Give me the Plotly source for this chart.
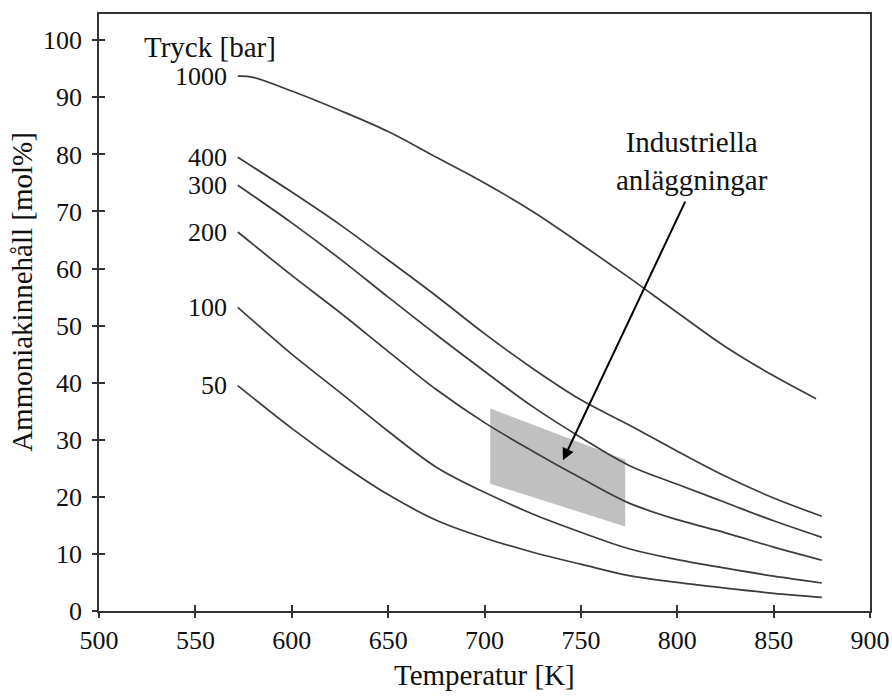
import plotly.graph_objects as go

# ---- data ----
T_1000 = [572, 580, 600, 625, 650, 675, 700, 725, 750, 775, 800, 825, 850, 872]
Y_1000 = [93.7, 93.5, 91.1, 87.7, 84.0, 79.5, 75.0, 70.0, 64.3, 58.4, 52.3, 46.3, 41.2, 37.2]

TEMPS = [572, 600, 625, 650, 675, 700, 725, 750, 775, 800, 825, 850, 875]
Y_400 = [79.5, 73.4, 67.7, 61.5, 55.2, 48.6, 42.5, 37.0, 32.6, 28.0, 23.6, 19.8, 16.6]
Y_300 = [74.6, 68.0, 61.7, 55.0, 48.4, 42.0, 35.8, 30.4, 25.5, 22.2, 19.0, 15.8, 12.9]
Y_200 = [66.4, 58.8, 52.3, 45.5, 38.8, 33.0, 28.0, 23.3, 18.9, 16.0, 13.7, 11.2, 8.9]
Y_100 = [53.2, 45.0, 38.3, 31.5, 25.2, 20.8, 17.0, 13.8, 10.9, 9.0, 7.5, 6.1, 4.9]
Y_50 = [39.5, 32.0, 25.9, 20.4, 15.9, 12.8, 10.3, 8.2, 6.2, 5.0, 4.0, 3.1, 2.4]

PRESSURES = ["1000", "400", "300", "200", "100", "50"]

# industrial operating window (polygon corners)
REGION_T = [703, 703, 773, 773]
REGION_Y = [35.5, 22.3, 14.8, 26.5]

# arrow: tail (text) -> head (region)
ARROW_TAIL = (804.5, 72.0)
ARROW_HEAD = (740.7, 26.4)
ANNOT_TEXT = "Industriella<br>anläggningar"
ANNOT_POS = (807.5, 78.9)

X_TICKS = [500, 550, 600, 650, 700, 750, 800, 850, 900]
Y_TICKS = [0, 10, 20, 30, 40, 50, 60, 70, 80, 90, 100]

X_TITLE = "Temperatur [K]"
Y_TITLE = "Ammoniakinnehåll [mol%]"

FONT = "Liberation Serif, Times New Roman, serif"
LINE_COLOR = "#3c3c3c"
TXT = "#111"

fig = go.Figure()

# shaded operating window
fig.add_trace(go.Scatter(
    x=REGION_T, y=REGION_Y, mode="lines", fill="toself",
    fillcolor="rgb(192,192,192)", line=dict(width=0),
    hoverinfo="skip", showlegend=False))

series = [(T_1000, Y_1000), (TEMPS, Y_400), (TEMPS, Y_300),
          (TEMPS, Y_200), (TEMPS, Y_100), (TEMPS, Y_50)]

for name, (xs, ys) in zip(PRESSURES, series):
    fig.add_trace(go.Scatter(
        x=xs, y=ys, mode="lines", name=name,
        line=dict(color=LINE_COLOR, width=1.7, shape="spline", smoothing=1.0),
        showlegend=False))
    fig.add_annotation(x=567.5, y=ys[0], text=name, showarrow=False,
                       xanchor="right", yanchor="middle",
                       font=dict(family=FONT, size=26, color=TXT))

fig.add_annotation(x=557.7, y=98.9, text="Tryck [bar]", showarrow=False,
                   xanchor="center", yanchor="middle",
                   font=dict(family=FONT, size=29, color=TXT))

fig.add_annotation(x=ANNOT_POS[0], y=ANNOT_POS[1], text=ANNOT_TEXT,
                   showarrow=False, xanchor="center", yanchor="middle",
                   font=dict(family=FONT, size=29, color=TXT))

fig.add_annotation(x=ARROW_HEAD[0], y=ARROW_HEAD[1], ax=ARROW_TAIL[0], ay=ARROW_TAIL[1],
                   xref="x", yref="y", axref="x", ayref="y", text="",
                   showarrow=True, arrowhead=2, arrowsize=1.2, arrowwidth=2,
                   arrowcolor="#000")

# axis titles as annotations (exact placement)
fig.add_annotation(x=0.5, y=-0.108, xref="paper", yref="paper", text=X_TITLE,
                   showarrow=False, xanchor="center", yanchor="middle",
                   font=dict(family=FONT, size=29, color=TXT))
fig.add_annotation(x=-0.099, y=0.534, xref="paper", yref="paper", text=Y_TITLE,
                   showarrow=False, xanchor="center", yanchor="middle", textangle=-90,
                   font=dict(family=FONT, size=29, color=TXT))

# helper trace so the inside-tick overlay axes get drawn
fig.add_trace(go.Scatter(x=[None], y=[None], xaxis="x2", yaxis="y2",
                         showlegend=False, hoverinfo="skip"))

tickfont = dict(family=FONT, size=26, color=TXT)
axis_common = dict(showgrid=False, zeroline=False, automargin=False,
                   linecolor="#333", linewidth=1.5, tickfont=tickfont)

fig.update_layout(
    width=892, height=697,
    margin=dict(l=99, r=22, t=14, b=86),
    plot_bgcolor="white", paper_bgcolor="white",
    font=dict(family=FONT, size=26, color=TXT),
    xaxis=dict(range=[500, 900], tickvals=X_TICKS, ticks="outside", ticklen=5,
               tickwidth=1.5, tickcolor="#333", showline=True, mirror=True,
               ticklabelstandoff=0, **axis_common),
    yaxis=dict(range=[0, 104.6], tickvals=Y_TICKS, ticks="outside", ticklen=5,
               tickwidth=1.5, tickcolor="#333", showline=True, mirror=True,
               ticklabelstandoff=5, **axis_common),
    xaxis2=dict(range=[500, 900], tickvals=X_TICKS, overlaying="x", anchor="y",
                side="bottom", ticks="inside", ticklen=6, tickwidth=1.5,
                tickcolor="#333", showticklabels=False, showline=False,
                showgrid=False, zeroline=False),
    yaxis2=dict(range=[0, 104.6], tickvals=Y_TICKS, overlaying="y", anchor="x",
                side="left", ticks="inside", ticklen=6, tickwidth=1.5,
                tickcolor="#333", showticklabels=False, showline=False,
                showgrid=False, zeroline=False),
)

fig.write_html(
    "out.html",
    config={"displayModeBar": False},
    post_script="document.body.style.margin='0';document.body.style.overflow='hidden';",
)
